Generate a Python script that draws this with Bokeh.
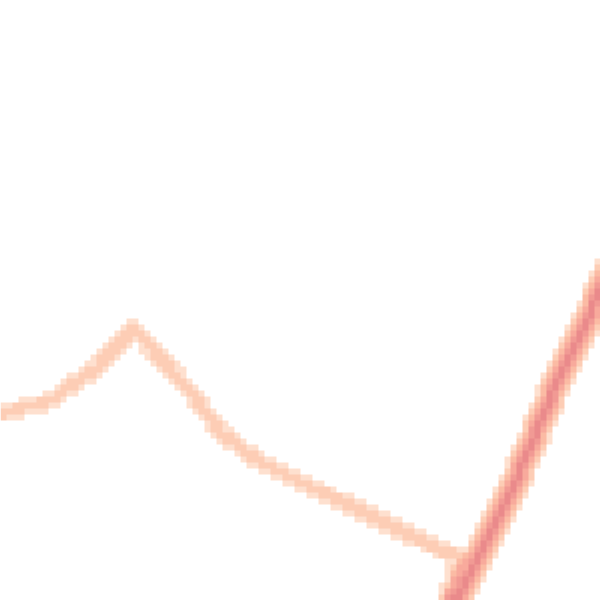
import numpy as np
from bokeh.plotting import figure
from bokeh.models import LinearColorMapper, Range1d
from bokeh.embed import file_html
from bokeh.resources import INLINE

# path vertices (x right, y up)
thin_x = [-10, 0, 50, 95, 133, 160, 190, 200, 220, 240, 260, 280, 340, 400, 445, 462, 448, 443]
thin_y = [185, 187, 200, 232, 272, 242, 210, 195, 168, 152, 139, 128, 100, 70, 48, 45, 10, -6]
thick_x = [448, 457, 473, 492, 507, 553, 600, 612]
thick_y = [-15, 3, 33, 70, 100, 210, 310, 336]

palette = ["#fee0cf", "#fdcdb5", "#fbbba4", "#f8aa9c", "#f19a94", "#ea8a8b"]

CELL = 6
N = 100
cx = (np.arange(N) + 0.5) * CELL
gx, gy = np.meshgrid(cx, cx)


def dist_to_path(xs, ys):
    xs = np.asarray(xs, float)
    ys = np.asarray(ys, float)
    d = np.full(gx.shape, np.inf)
    for k in range(len(xs) - 1):
        ax, ay, bx, by = xs[k], ys[k], xs[k + 1], ys[k + 1]
        vx, vy = bx - ax, by - ay
        L2 = vx * vx + vy * vy
        t = np.clip(((gx - ax) * vx + (gy - ay) * vy) / L2, 0, 1)
        px, py = ax + t * vx, ay + t * vy
        d = np.minimum(d, np.hypot(gx - px, gy - py))
    return d


d_thin = dist_to_path(thin_x, thin_y)
d_thick = dist_to_path(thick_x, thick_y)
dens = np.clip(1 - d_thin / 9.5, 0, None) * 1.0 + np.clip(1 - d_thick / 16, 0, None) * 3.0
dens[dens <= 0] = np.nan

mapper = LinearColorMapper(palette=palette, low=0, high=3, nan_color="rgba(0,0,0,0)",
                           high_color=palette[-1])

p = figure(width=600, height=600, x_range=Range1d(0, 600), y_range=Range1d(0, 600),
           toolbar_location=None, output_backend="svg", min_border=0)
p.image(image=[dens], x=0, y=0, dw=N * CELL, dh=N * CELL, color_mapper=mapper)
p.axis.visible = False
p.grid.visible = False
p.outline_line_color = None
p.background_fill_color = "white"
p.border_fill_color = "white"

open("out.html", "w").write(file_html(p, INLINE))
